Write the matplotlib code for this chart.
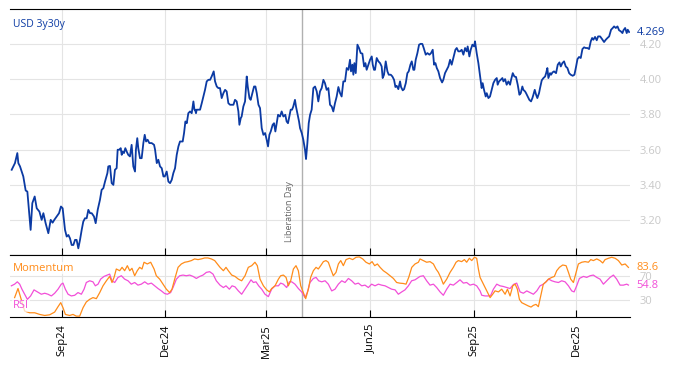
import numpy as np
import pandas as pd
import matplotlib
matplotlib.use("Agg")
import matplotlib.pyplot as plt
import matplotlib.dates as mdates

plt.rcParams['font.family'] = ['Open Sans', 'DejaVu Sans']

BASE = pd.Timestamp("2024-09-01")
LIB_DAY = pd.Timestamp("2025-04-02")

# USD 3y30y, x = days after 1 Sep 2024
yld_days = [
    -44.9, -42.0, -39.9, -39.0, -37.5, -34.6, -32.5, -31.0, -28.1, -26.6,
    -24.5, -22.7, -20.3, -18.3, -16.8, -14.8, -12.4, -10.3, -8.6, -7.1,
    -5.0, -2.9, -1.2, 0.3, 2.4, 3.9, 5.4, 6.8, 8.3, 9.8,
    11.3, 12.7, 14.2, 15.7, 17.2, 18.6, 20.1, 21.6, 23.1, 24.6,
    26.1, 28.1, 29.6, 31.4, 33.4, 34.9, 36.4, 37.9, 40.0, 40.8,
    42.3, 43.8, 45.3, 46.7, 48.2, 49.1, 50.6, 51.8, 52.7, 53.5,
    54.7, 55.9, 57.1, 58.5, 60.0, 61.5, 63.0, 64.5, 65.3, 66.5,
    67.4, 68.9, 70.4, 71.9, 73.1, 74.3, 75.7, 77.2, 79.3, 81.4,
    82.3, 83.8, 85.2, 86.7, 88.2, 89.7, 90.9, 92.6, 94.1, 95.6,
    97.1, 98.5, 100.0, 101.5, 103.0, 104.4, 106.8, 108.0, 109.2, 110.4,
    111.8, 113.3, 114.8, 116.3, 117.2, 117.7, 118.6, 119.2, 120.7, 122.2,
    123.7, 125.1, 126.6, 128.1, 129.6, 131.1, 132.5, 134.3, 135.5, 137.0,
    138.4, 139.9, 141.4, 142.9, 144.4, 145.8, 147.3, 148.8, 151.8, 153.2,
    154.7, 156.2, 157.1, 158.3, 159.1, 160.6, 162.1, 163.6, 164.5, 166.0,
    167.1, 168.6, 170.1, 171.3, 172.5, 174.0, 175.4, 176.9, 178.4, 179.9,
    181.3, 182.5, 183.7, 184.9, 186.6, 187.8, 189.0, 190.2, 191.4, 193.1,
    194.6, 196.1, 197.8, 199.0, 200.2, 201.4, 202.6, 203.8, 204.9, 206.4,
    207.3, 208.8, 210.0, 210.9, 212.4, 213.8, 215.3, 216.2, 217.4, 218.6,
    219.8, 221.2, 222.7, 224.2, 225.7, 227.1, 228.6, 230.1, 231.6, 233.0,
    234.5, 236.0,
    237.5, 239.0, 240.4, 241.9, 243.4, 244.9, 246.4, 247.8, 249.3, 250.8,
    252.3, 253.8, 255.2, 256.1, 257.3, 258.2, 259.1, 260.3, 261.8, 263.2,
    264.7, 266.2, 267.7, 268.9, 270.0, 271.5, 273.0, 274.5, 275.4, 276.5,
    277.4, 278.9, 280.4, 281.9, 283.3, 284.2, 285.4, 286.9, 288.4, 289.6,
    291.4, 292.8, 294.3, 295.5, 296.6, 298.1, 299.6, 300.5, 302.0, 303.2,
    304.7, 306.1, 307.3, 308.8, 310.0, 311.4, 312.3, 313.5, 315.0, 316.5,
    318.0, 319.4, 320.6, 322.4, 323.9, 325.7, 327.1, 328.6, 329.8, 331.0,
    332.2, 333.6, 335.1, 336.9, 338.0, 339.5, 341.0, 342.5, 344.0, 345.4,
    346.9, 348.7, 349.9, 351.3, 352.8, 354.3, 355.8, 357.3, 358.7, 359.6,
    361.1, 362.3, 363.8, 365.3, 366.1, 367.6, 369.1, 370.6, 372.0, 372.9,
    374.1, 375.6, 376.5, 378.0, 379.4, 380.9, 382.4, 383.9, 385.4, 386.2,
    387.4, 388.9, 390.4, 391.3, 392.8, 394.2, 395.7, 397.2, 398.1, 399.6,
    401.0, 402.5, 404.0, 405.5, 406.7, 408.1, 409.0, 410.5, 411.4, 412.8,
    414.3, 415.8, 417.0, 417.9, 419.1, 420.3, 421.4, 422.9, 423.8, 425.3,
    426.8, 428.3, 429.2, 430.3, 431.2, 432.7, 433.6, 434.8, 436.2, 438.0,
    439.5, 441.0, 442.2, 443.6, 445.1, 446.6, 448.1, 449.6, 451.0, 452.8,
    454.3, 455.8, 457.0, 458.4, 459.9, 461.4, 462.9, 464.3, 465.8, 467.3,
    468.8, 470.0, 471.1, 472.6, 474.1, 475.3, 477.1, 478.8, 480.6, 482.1,
    483.6, 485.1, 486.8, 488.3, 489.5, 491.0, 492.5, 493.9, 495.4, 496.9,
    497.8, 499.3, 500.7, 501.6, 502.8,
]
yld = [
    3.485, 3.523, 3.580, 3.523, 3.504, 3.447, 3.367, 3.361, 3.143, 3.295,
    3.333, 3.266, 3.247, 3.200, 3.238, 3.181, 3.124, 3.200, 3.184, 3.200,
    3.219, 3.238, 3.276, 3.266, 3.143, 3.105, 3.114, 3.095, 3.057, 3.057,
    3.086, 3.086, 3.038, 3.086, 3.143, 3.190, 3.209, 3.209, 3.257, 3.238,
    3.238, 3.219, 3.181, 3.257, 3.314, 3.371, 3.380, 3.418, 3.466, 3.504,
    3.507, 3.409, 3.399, 3.485, 3.494, 3.599, 3.599, 3.608, 3.570, 3.589,
    3.580, 3.608, 3.589, 3.570, 3.561, 3.627, 3.504, 3.475, 3.599, 3.665,
    3.608, 3.551, 3.551, 3.637, 3.684, 3.646, 3.656, 3.637, 3.637, 3.627,
    3.599, 3.523, 3.542, 3.504, 3.494, 3.447, 3.447, 3.475, 3.418, 3.409,
    3.428, 3.466, 3.494, 3.570, 3.618, 3.646, 3.646, 3.694, 3.760, 3.750,
    3.807, 3.817, 3.807, 3.874, 3.827, 3.827, 3.807, 3.827, 3.827, 3.827,
    3.864, 3.902, 3.940, 3.988, 3.997, 3.997, 4.016, 4.045, 3.988, 3.959,
    3.950, 3.950, 3.893, 3.921, 3.940, 3.931, 3.864, 3.855, 3.855, 3.883,
    3.874, 3.817, 3.741, 3.779, 3.788, 3.845, 3.874, 4.016, 3.959, 3.893,
    3.883, 3.921, 3.959, 3.959, 3.921, 3.855, 3.836, 3.722, 3.684, 3.694,
    3.656, 3.618, 3.684, 3.703, 3.741, 3.750, 3.703, 3.750, 3.798, 3.788,
    3.817, 3.788, 3.798, 3.760, 3.750, 3.788, 3.827, 3.827, 3.845, 3.883,
    3.845, 3.798, 3.760, 3.722, 3.694, 3.656, 3.599, 3.546, 3.637, 3.750,
    3.798, 3.827, 3.950, 3.959, 3.931, 3.874, 3.931, 3.950, 3.997, 3.978,
    3.940, 3.950,
    3.855, 3.845, 3.817, 3.864, 3.902, 3.956, 3.921, 3.902, 3.988, 3.988,
    4.064, 4.054, 4.111, 4.045, 4.083, 4.026, 4.092, 4.035, 4.197, 4.178,
    4.149, 4.146, 4.073, 4.092, 4.054, 4.083, 4.111, 4.130, 4.083, 4.054,
    4.054, 4.121, 4.102, 4.092, 4.073, 4.007, 4.026, 4.102, 4.045, 4.026,
    4.026, 4.016, 3.997, 3.956, 3.963, 3.944, 3.988, 3.956, 3.937, 3.944,
    3.978, 4.035, 4.045, 4.083, 4.102, 4.054, 4.054, 4.111, 4.149, 4.197,
    4.202, 4.201, 4.178, 4.140, 4.149, 4.140, 4.149, 4.168, 4.083, 4.092,
    4.064, 4.045, 4.007, 3.982, 3.997, 4.035, 4.054, 4.073, 4.111, 4.083,
    4.121, 4.168, 4.178, 4.159, 4.159, 4.168, 4.140, 4.178, 4.159, 4.187,
    4.130, 4.168, 4.197, 4.187, 4.216, 4.149, 4.092, 4.016, 3.950, 3.978,
    3.940, 3.902, 3.921, 3.893, 3.902, 3.940, 3.978, 3.997, 4.007, 3.969,
    3.988, 3.997, 4.007, 3.988, 4.001, 3.969, 3.988, 3.969, 3.997, 4.035,
    4.016, 4.013, 3.969, 3.912, 3.921, 3.959, 3.940, 3.931, 3.921, 3.902,
    3.883, 3.874, 3.893, 3.912, 3.940, 3.912, 3.893, 3.921, 3.950, 3.994,
    4.007, 4.016, 4.035, 4.064, 4.007, 4.035, 4.026, 4.039, 4.045, 4.035,
    4.083, 4.096, 4.073, 4.092, 4.102, 4.073, 4.064, 4.035, 4.026, 4.020,
    4.026, 4.073, 4.115, 4.127, 4.121, 4.172, 4.182, 4.178, 4.178, 4.172,
    4.216, 4.235, 4.225, 4.241, 4.222, 4.244, 4.244, 4.229, 4.212, 4.225,
    4.235, 4.244, 4.282, 4.292, 4.301, 4.292, 4.301, 4.279, 4.273, 4.263,
    4.279, 4.292, 4.263, 4.282, 4.269,
]

mom_days = [
    -42.3, -39.3, -36.9, -33.4, -29.0, -24.5, -20.1, -15.6, -11.2, -6.8,
    -3.8, -1.4, 0.6, 2.7, 6.5, 9.5, 12.4, 15.4, 18.4, 21.3,
    24.3, 27.2, 30.2, 33.2, 36.1, 39.1, 42.0, 44.1, 45.9, 47.9,
    50.9, 53.0, 55.3, 57.7, 59.8, 61.8, 64.2, 66.5, 68.6, 70.7,
    72.5, 75.4, 78.4, 81.4, 83.4, 86.4, 89.3, 92.3, 95.2, 97.3,
    99.7, 102.7, 105.6, 108.6, 111.5, 114.5, 117.4, 120.4, 123.3, 126.3,
    129.2, 132.2, 135.2,
    139.9, 142.9, 145.2, 147.3, 150.3, 153.2, 156.2, 159.1, 162.1, 165.0,
    168.0, 170.9, 173.0, 175.4, 178.4, 181.3, 183.7, 185.7, 188.7, 191.7,
    193.7, 196.1, 198.5, 200.5, 202.6, 205.0, 207.3, 209.4, 211.5, 213.8,
    215.9, 218.3, 220.3, 222.7, 225.1, 227.1, 229.2, 231.6, 233.9, 236.0,
    238.1, 240.4, 242.8, 244.9, 247.0, 249.3, 251.7, 254.7, 257.6, 260.6,
    263.5, 266.5, 269.4, 272.4, 274.8, 277.1, 279.5, 281.9, 284.8, 287.8,
    290.7, 293.7, 296.6, 299.6, 302.5, 304.9, 307.3, 310.0, 312.9, 315.9,
    317.3, 320.3, 323.2, 326.2, 329.2, 331.5, 333.6, 335.7, 338.0, 341.0,
    344.0, 346.9, 349.3, 351.3, 354.3, 356.7, 358.7, 361.1, 363.2, 365.6,
    367.6, 369.1, 370.6, 373.6, 376.5, 379.5, 381.8, 383.9, 386.9, 389.8,
    392.8, 394.9, 397.2, 399.6, 401.7, 403.7, 405.5, 407.5, 410.5, 413.5,
    415.8, 417.9, 420.2, 422.3, 424.4, 426.7, 429.1, 431.2, 434.2, 436.5,
    438.6, 441.0, 443.9, 446.9, 449.0, 451.0, 453.4, 455.8, 457.8, 460.8,
    463.7, 466.7, 468.8, 471.1, 474.1, 477.0, 479.4, 481.5, 484.5, 487.4,
    490.4, 493.3, 496.3, 499.3, 502.2,
]
mom = [
    34.4, 49.2, 34.4, 12.5, 9.7, 9.7, 7.0, 5.3, 6.4, 10.8,
    19.6, 26.2, 18.0, 7.0, 5.3, 7.0, 4.2, 4.2, 18.0, 27.3,
    31.6, 34.4, 32.7, 42.6, 53.6, 61.8, 68.9, 59.0, 67.3, 81.0,
    78.2, 83.7, 78.2, 86.4, 78.2, 82.1, 70.0, 78.2, 83.7, 81.0,
    92.0, 89.2, 92.0, 81.0, 70.0, 64.5, 56.3, 48.1, 42.6, 48.1,
    64.5, 83.7, 89.2, 92.0, 93.0, 94.7, 97.4, 96.3, 97.4, 99.0,
    99.0, 97.4, 94.7,
    83.7, 78.2, 83.7, 78.2, 71.1, 68.9, 64.5, 61.8, 70.0, 83.7,
    86.4, 92.0, 86.4, 64.5, 53.6, 47.0, 43.7, 49.2, 53.6, 64.5,
    70.0, 71.1, 67.3, 53.6, 61.8, 81.0, 86.4, 78.2, 53.6, 42.6,
    32.7, 48.1, 67.3, 78.2, 83.7, 81.0, 86.4, 93.0, 94.7, 92.0,
    81.0, 70.0, 75.5, 89.2, 94.7, 86.4, 96.3, 98.5, 96.3, 100.1,
    100.7, 97.4, 92.0, 89.2, 93.0, 86.4, 89.2, 83.7, 78.2, 74.4,
    70.0, 65.6, 59.0, 57.9, 57.4, 56.3, 67.3, 83.7, 89.2, 92.0,
    97.4, 94.7, 92.0, 93.0, 89.2, 81.0, 75.5, 67.3, 56.3, 64.5,
    75.5, 83.7, 92.0, 94.7, 93.0, 96.3, 92.0, 98.5, 94.7, 100.1,
    98.5, 81.0, 67.3, 56.3, 45.4, 34.4, 39.9, 45.4, 43.7, 48.1,
    39.9, 48.1, 37.1, 53.6, 56.3, 48.1, 31.6, 26.2, 23.4, 20.7,
    19.0, 21.8, 23.4, 19.6, 37.1, 56.3, 60.1, 64.5, 67.3, 68.9,
    78.2, 83.7, 87.5, 86.4, 75.5, 64.5, 59.0, 75.5, 89.2, 92.0,
    93.0, 92.0, 96.3, 94.7, 97.4, 94.7, 90.8, 96.3, 98.5, 100.1,
    98.5, 94.7, 87.5, 89.2, 83.6,
]

rsi_days = [
    -45.2, -42.3, -39.9, -37.8, -35.8, -33.4, -31.0, -28.1, -25.1, -22.1,
    -18.6, -15.6, -12.7, -9.7, -6.8, -3.8, -0.9, 0.6, 2.7, 5.1,
    8.0, 11.0, 13.9, 16.9, 19.3, 21.3, 24.3, 27.2, 29.3, 31.7,
    34.0, 37.0, 39.9, 42.0, 44.1, 46.5, 49.4, 52.4, 55.3, 58.3,
    61.2, 64.2, 67.1, 70.1, 73.1, 76.0, 79.0, 81.9, 84.9, 87.9,
    90.8, 93.2, 96.1, 98.2, 101.2, 104.1, 107.1, 110.0, 113.0, 116.0,
    118.9, 121.9, 124.8, 127.8, 130.7, 133.7, 136.6,
    139.9, 142.9, 145.2, 148.2, 150.6, 153.2, 156.2, 159.1, 162.1, 165.0,
    167.4, 169.5, 171.8, 174.2, 176.9, 179.8, 182.8, 185.7, 188.7, 191.7,
    193.7, 196.1, 199.0, 201.4, 203.5, 206.4, 209.4, 212.3, 215.3, 217.3,
    219.7, 222.7, 225.1, 227.4, 230.1, 233.1, 236.0, 239.0, 241.9, 244.9,
    247.9, 250.8, 253.8, 256.7, 259.7, 262.6, 265.6, 268.5, 271.5, 274.4,
    277.4, 280.4, 283.3, 286.3, 289.2, 292.2, 295.2, 298.1, 301.1, 304.0,
    307.0, 309.9, 312.9, 315.9,
    317.3, 320.3, 323.2, 326.2, 329.2, 332.1, 335.1, 338.0, 341.0, 344.0,
    346.9, 349.9, 352.8, 355.8, 358.7, 361.7, 364.7, 367.6, 370.6, 372.1,
    375.0, 378.0, 380.1, 382.4, 385.4, 388.3, 391.3, 394.2, 397.2, 400.2,
    403.1, 406.1, 409.0, 412.0, 415.0, 417.9, 420.9, 423.8, 426.8, 429.1,
    431.5, 434.2, 437.1, 440.1, 443.0, 446.0, 449.0, 451.9, 454.0, 456.3,
    458.7, 462.3, 465.2, 468.2, 471.1, 474.1, 477.0, 480.0, 482.9, 485.9,
    488.9, 491.8, 494.8, 497.7, 500.7, 502.2,
]
rsi = [
    53.6, 56.3, 60.1, 56.3, 48.1, 39.9, 31.6, 37.1, 47.0, 43.7,
    39.9, 41.5, 39.9, 37.1, 41.5, 48.1, 56.3, 58.0, 48.1, 39.9,
    37.1, 38.2, 42.6, 39.9, 48.1, 59.0, 61.8, 60.1, 53.6, 56.3,
    64.5, 68.9, 71.1, 72.7, 61.8, 59.0, 67.3, 70.0, 64.5, 61.8,
    56.3, 59.0, 54.7, 56.3, 60.1, 56.3, 58.0, 53.6, 49.2, 45.3,
    41.0, 39.9, 42.6, 50.8, 64.5, 70.0, 71.1, 70.0, 71.1, 68.9,
    65.6, 68.9, 71.1, 75.5, 76.6, 72.7, 61.8,
    54.7, 50.8, 53.6, 48.1, 53.6, 51.9, 45.3, 39.9, 48.1, 56.3,
    63.4, 59.0, 60.1, 53.6, 48.1, 39.9, 36.0, 48.1, 53.6, 53.6,
    58.0, 56.3, 50.8, 60.1, 60.1, 56.3, 49.2, 43.7, 34.4, 42.6,
    59.0, 65.6, 67.3, 61.8, 60.1, 61.8, 56.3, 45.3, 48.1, 56.3,
    61.8, 59.0, 65.6, 61.8, 56.3, 58.0, 53.6, 54.7, 50.8, 56.3,
    53.6, 56.3, 54.7, 53.6, 50.8, 48.1, 47.0, 39.9, 43.7, 47.0,
    53.6, 61.8, 63.4, 67.3,
    68.9, 70.0, 61.8, 54.7, 56.3, 50.8, 43.7, 38.2, 48.1, 56.3,
    54.7, 59.0, 63.4, 58.0, 59.0, 54.7, 56.3, 53.6, 45.3, 38.2,
    37.1, 37.1, 38.2, 48.1, 56.3, 53.6, 52.5, 50.8, 49.2, 55.8,
    58.0, 43.7, 41.5, 45.3, 42.6, 39.9, 45.3, 53.6, 56.3, 60.1,
    64.5, 61.8, 60.1, 59.0, 61.8, 60.1, 53.6, 45.3, 43.7, 53.6,
    65.6, 68.9, 67.3, 70.0, 71.1, 67.3, 64.5, 56.3, 61.8, 67.3,
    71.1, 64.5, 54.7, 54.7, 56.3, 54.8,
]


def to_dates(days):
    return BASE + pd.to_timedelta(np.asarray(days), unit="D")


BLUE = "#0b3aa3"
ORANGE = "#ff8c1a"
PINK = "#f24fd8"
GRID = "#e4e4e4"
TICKGREY = "#c8c8c8"
LIBGREY = "#b0b0b0"

fig = plt.figure(figsize=(6.74, 3.66), dpi=100)
ax = fig.add_axes([10 / 674, 1 - 255 / 366, 620 / 674, 246 / 366])
ax2 = fig.add_axes([10 / 674, 1 - 317 / 366, 620 / 674, 62 / 366], sharex=ax)

# top panel
ax.plot(to_dates(yld_days), yld, color=BLUE, lw=1.3, zorder=3)
ax.set_ylim(3.0, 4.4)
ax.set_xlim(to_dates([-46.4, 503.6]))
ax.set_yticks([3.2, 3.4, 3.6, 3.8, 4.0, 4.2])
ax.set_yticklabels([f"{v:.2f}" for v in [3.2, 3.4, 3.6, 3.8, 4.0, 4.2]])
ax.yaxis.tick_right()
ax.tick_params(axis="y", length=0, pad=7, labelcolor=TICKGREY, labelsize=8)
ax.xaxis.set_major_locator(mdates.MonthLocator(bymonth=[3, 6, 9, 12]))
ax.xaxis.set_major_formatter(mdates.DateFormatter("%b%y"))
ax.tick_params(axis="x", direction="in", length=5, labelbottom=False)
ax.grid(True, color=GRID, lw=0.8)
ax.set_axisbelow(True)
for s in ["left", "right"]:
    ax.spines[s].set_visible(False)

ax.text(0.005, 0.935, "USD 3y30y", transform=ax.transAxes, color=BLUE,
        fontsize=7.5, va="center", ha="left")
ax.text(1.011, yld[-1], f"{yld[-1]:.3f}", transform=ax.get_yaxis_transform(),
        color=BLUE, fontsize=8, va="center", ha="left")

ax.axvline(LIB_DAY, color=LIBGREY, lw=1, zorder=2)
ax.annotate("Liberation Day", xy=(LIB_DAY, 3.0), xytext=(-6, 9),
            textcoords="offset points", rotation=90, ha="right", va="bottom",
            fontsize=6.5, color="#666666")

# bottom panel
ax2.plot(to_dates(rsi_days), rsi, color=PINK, lw=0.9, zorder=3)
ax2.plot(to_dates(mom_days), mom, color=ORANGE, lw=0.9, zorder=4)
ax2.set_ylim(2.8, 103.8)
ax2.set_yticks([30, 70])
ax2.yaxis.tick_right()
ax2.tick_params(axis="y", length=0, pad=7, labelcolor=TICKGREY, labelsize=8)
ax2.tick_params(axis="x", direction="in", length=5, labelsize=8,
                labelrotation=90, pad=5)
ax2.grid(True, color=GRID, lw=0.8)
ax2.set_axisbelow(True)
for s in ["left", "right"]:
    ax2.spines[s].set_visible(False)
ax2.axvline(LIB_DAY, color=LIBGREY, lw=1, zorder=2)

box = dict(facecolor="white", edgecolor="none", alpha=0.7, pad=0.5)
ax2.text(0.005, 0.79, "Momentum", transform=ax2.transAxes, color=ORANGE,
         fontsize=8, va="center", ha="left", bbox=box, zorder=5)
ax2.text(0.005, 0.18, "RSI", transform=ax2.transAxes, color=PINK,
         fontsize=8, va="center", ha="left", bbox=box, zorder=5)

ax2.text(1.011, mom[-1], f"{mom[-1]:.1f}", transform=ax2.get_yaxis_transform(),
         color=ORANGE, fontsize=8, va="center", ha="left")
ax2.text(1.011, rsi[-1], f"{rsi[-1]:.1f}", transform=ax2.get_yaxis_transform(),
         color=PINK, fontsize=8, va="center", ha="left")

fig.savefig("out.png", dpi=100)
